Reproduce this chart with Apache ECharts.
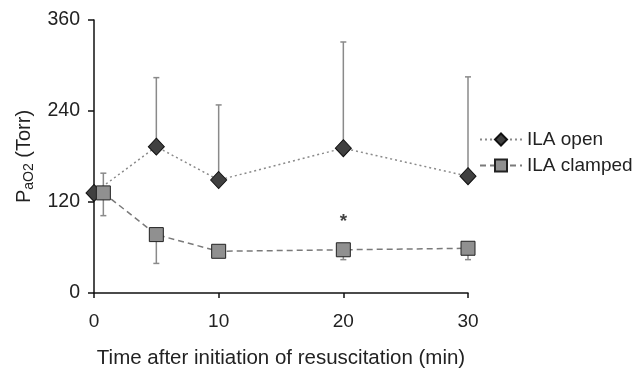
<!DOCTYPE html>
<html>
<head>
<meta charset="utf-8">
<script src="https://cdn.jsdelivr.net/npm/echarts@6/dist/echarts.min.js"></script>
<style>
  html, body { margin: 0; padding: 0; background: #fff; }
  #main { width: 634px; height: 368px; }
</style>
</head>
<body>
<div id="main"></div>
<script>
// PaO2 after start of resuscitation, ILA open vs clamped
var openTimes = [0, 5, 10, 20, 30];
var openMean = [132, 193, 149, 191, 154];
var openHigh = [132, 284, 248, 331, 285];

var clampTimes = [0.75, 5, 10, 20, 30];
var clampMean = [132, 77, 55, 57, 59];
var clampLow = [102, 39, 52, 44, 44];
var clampHigh = [158, 77, 55, 57, 59];

var starPoints = [[20, 94]];

var font = 'Liberation Sans, Arial, sans-serif';

function pairs(xs, ys) {
  return xs.map(function (x, i) { return [x, ys[i]]; });
}
function errData(xs, lo, hi) {
  return xs.map(function (x, i) { return [x, lo[i], hi[i]]; });
}

function renderErr(params, api) {
  var x = api.value(0);
  var lo = api.coord([x, api.value(1)]);
  var hi = api.coord([x, api.value(2)]);
  if (Math.abs(lo[1] - hi[1]) < 1) return null;
  var c = 3;
  var st = { stroke: '#8a8a8a', lineWidth: 1.5 };
  return {
    type: 'group',
    children: [
      { type: 'line', shape: { x1: lo[0], y1: lo[1], x2: hi[0], y2: hi[1] }, style: st },
      { type: 'line', shape: { x1: lo[0] - c, y1: lo[1], x2: lo[0] + c, y2: lo[1] }, style: st },
      { type: 'line', shape: { x1: hi[0] - c, y1: hi[1], x2: hi[0] + c, y2: hi[1] }, style: st }
    ]
  };
}

var chart = echarts.init(document.getElementById('main'));
chart.setOption({
  animation: false,
  grid: { left: 94, right: 166, top: 20, bottom: 75, containLabel: false, outerBoundsMode: 'none' },
  legend: {
    orient: 'vertical',
    left: 479,
    top: 130,
    padding: 0,
    itemGap: 7,
    itemWidth: 42,
    itemHeight: 15,
    textStyle: { fontFamily: font, fontSize: 19, color: '#222' },
    data: ['ILA open', 'ILA clamped']
  },
  xAxis: {
    type: 'value',
    min: 0, max: 30, interval: 10,
    name: 'Time after initiation of resuscitation (min)',
    nameLocation: 'middle',
    nameGap: 55,
    nameTextStyle: { fontFamily: font, fontSize: 20.5, color: '#222' },
    axisLine: { lineStyle: { color: '#111', width: 1.5 } },
    axisTick: { length: 5, lineStyle: { color: '#111', width: 1.5 } },
    axisLabel: { fontFamily: font, fontSize: 19, color: '#222', margin: 19 },
    splitLine: { show: false }
  },
  yAxis: {
    type: 'value',
    min: 0, max: 360, interval: 120,
    name: '{p|P}{s|aO2}{p| (Torr)}',
    nameLocation: 'middle',
    nameGap: 56,
    nameRotate: 90,
    nameTextStyle: {
      fontFamily: font, color: '#222',
      rich: {
        p: { fontFamily: font, fontSize: 20, color: '#222', lineHeight: 24 },
        s: { fontFamily: font, fontSize: 14, color: '#222', lineHeight: 15, verticalAlign: 'bottom' }
      }
    },
    axisLine: { show: true, lineStyle: { color: '#111', width: 1.5 } },
    axisTick: { show: true, length: 6, lineStyle: { color: '#111', width: 1.5 } },
    axisLabel: { fontFamily: font, fontSize: 19.5, color: '#222', margin: 14 },
    splitLine: { show: false }
  },
  series: [
    {
      name: 'errOpen', type: 'custom', z: 1,
      renderItem: renderErr,
      data: errData(openTimes, openMean, openHigh)
    },
    {
      name: 'errClamp', type: 'custom', z: 1,
      renderItem: renderErr,
      data: errData(clampTimes, clampLow, clampHigh)
    },
    {
      name: 'ILA open', type: 'line', z: 3,
      data: pairs(openTimes, openMean),
      symbol: 'diamond', symbolSize: [16, 17],
      itemStyle: { color: '#404040', borderColor: '#111', borderWidth: 1 },
      lineStyle: { color: '#8a8a8a', width: 1.5, type: [2, 3] }
    },
    {
      name: 'ILA clamped', type: 'line', z: 4,
      data: pairs(clampTimes, clampMean),
      symbol: 'rect', symbolSize: 14,
      itemStyle: { color: '#909090', borderColor: '#222', borderWidth: 1 },
      lineStyle: { color: '#7a7a7a', width: 1.5, type: [6, 4] }
    },
    {
      name: 'star', type: 'scatter', z: 5,
      data: starPoints,
      symbol: 'circle', symbolSize: 2,
      itemStyle: { color: 'rgba(0,0,0,0)' },
      label: {
        show: true, position: 'inside', formatter: '*',
        fontFamily: font, fontSize: 19, fontWeight: 'bold', color: '#111'
      }
    }
  ]
});
</script>
</body>
</html>
